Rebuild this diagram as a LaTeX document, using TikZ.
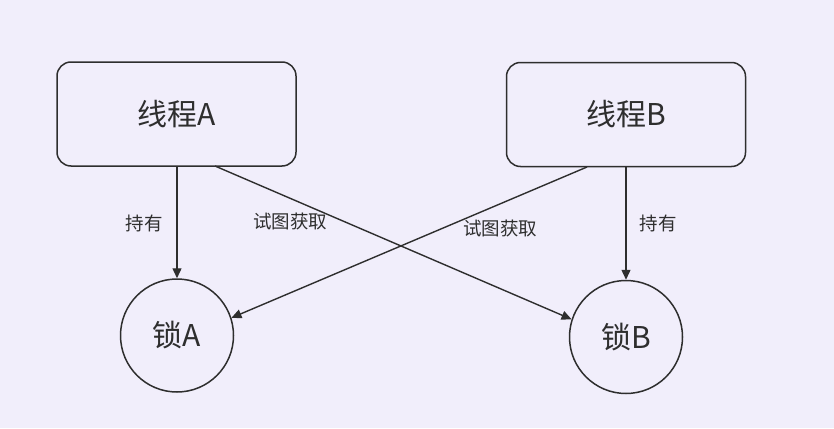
\documentclass[tikz,border=0pt]{standalone}
\usepackage{fontspec}
\setmainfont{Noto Sans CJK SC}
\usetikzlibrary{arrows.meta}
\definecolor{bg}{HTML}{F1EEFB}
\definecolor{ink}{HTML}{2E2E2E}
\tikzset{
  thread/.style={draw=ink, line width=1.5pt, rounded corners=14pt, minimum width=239pt, minimum height=104pt, text=ink, font=\fontsize{30}{34}\selectfont, inner sep=0pt},
  lock/.style={draw=ink, line width=1.5pt, circle, minimum size=113pt, text=ink, font=\fontsize{30}{34}\selectfont, inner sep=0pt},
  conn/.style={draw=ink, line width=1.4pt, -{Triangle[length=10pt,width=9pt]}},
  lbl/.style={text=ink, font=\fontsize{18.5}{20}\selectfont, inner sep=0pt}
}
\begin{document}
\begin{tikzpicture}[x=1pt,y=-1pt]
\fill[bg] (0,0) rectangle (834,428);
\useasboundingbox (0,0) rectangle (834,428);
\node[thread] (ta) at (176.5,114) {线程A};
\node[thread] (tb) at (626,114.5) {线程B};
\node[lock] (la) at (177,335.5) {锁A};
\node[lock] (lb) at (626,337) {锁B};
\coordinate (taS) at (215,166);
\coordinate (tbS) at (587,167);
\draw[conn] (ta.south -| la.north) -- (la.north);
\draw[conn] (tb.south) -- (lb.north);
\draw[conn] (taS) -- (lb.162);
\draw[conn] (tbS) -- (la.18);
\node[lbl] (h1) at (144,223) {持有};
\node[lbl] (h2) at (658,223) {持有};
\node[lbl] (t1) at (290,221) {试图获取};
\node[lbl] (t2) at (500,228) {试图获取};
\end{tikzpicture}
\end{document}
